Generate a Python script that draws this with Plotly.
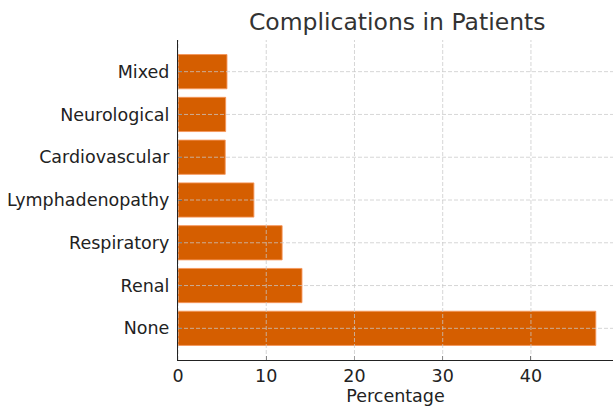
import plotly.graph_objects as go

categories = ["None", "Renal", "Respiratory", "Lymphadenopathy", "Cardiovascular", "Neurological", "Mixed"]
percentages = [47.35, 14.05, 11.8, 8.6, 5.35, 5.4, 5.55]
x_ticks = [0, 10, 20, 30, 40]

fig = go.Figure()
fig.add_trace(go.Bar(
    y=categories, x=percentages, orientation="h",
    marker=dict(color="#d55e00", line=dict(color="rgba(245,150,90,0.9)", width=1)),
    width=0.8,
))

grid = dict(color="rgba(200,200,200,0.75)", width=1, dash="4px,2px")
for t in x_ticks:
    fig.add_vline(x=t, line=grid, layer="above")
for c in categories:
    fig.add_hline(y=c, line=grid, layer="above")

fig.update_layout(
    width=613, height=407,
    margin=dict(l=178, r=0, t=40, b=47),
    plot_bgcolor="white", paper_bgcolor="white",
    font=dict(family="DejaVu Sans", size=17.5, color="#222"),
    title=dict(text="Complications in Patients", x=0.648, xanchor="center", y=0.946, yanchor="middle",
               font=dict(size=23.5, color="#333")),
    showlegend=False,
    bargap=0.2,
)
fig.update_xaxes(
    range=[0, 49.3], tickvals=x_ticks, showgrid=False, zeroline=False,
    showline=True, linecolor="#222", linewidth=1.3,
    ticks="inside", ticklen=4, tickcolor="#333",
    title=dict(text="Percentage", font=dict(size=17.5), standoff=2),
)
fig.update_yaxes(
    categoryorder="array", categoryarray=categories, range=[-0.74, 6.74],
    showgrid=False, zeroline=False, showline=True, linecolor="#222", linewidth=1.3,
    ticks="inside", ticklen=4, tickcolor="#333", ticklabelstandoff=4,
)

fig.write_html("out.html", config={"displayModeBar": False},
               post_script="document.body.style.margin='0';")
